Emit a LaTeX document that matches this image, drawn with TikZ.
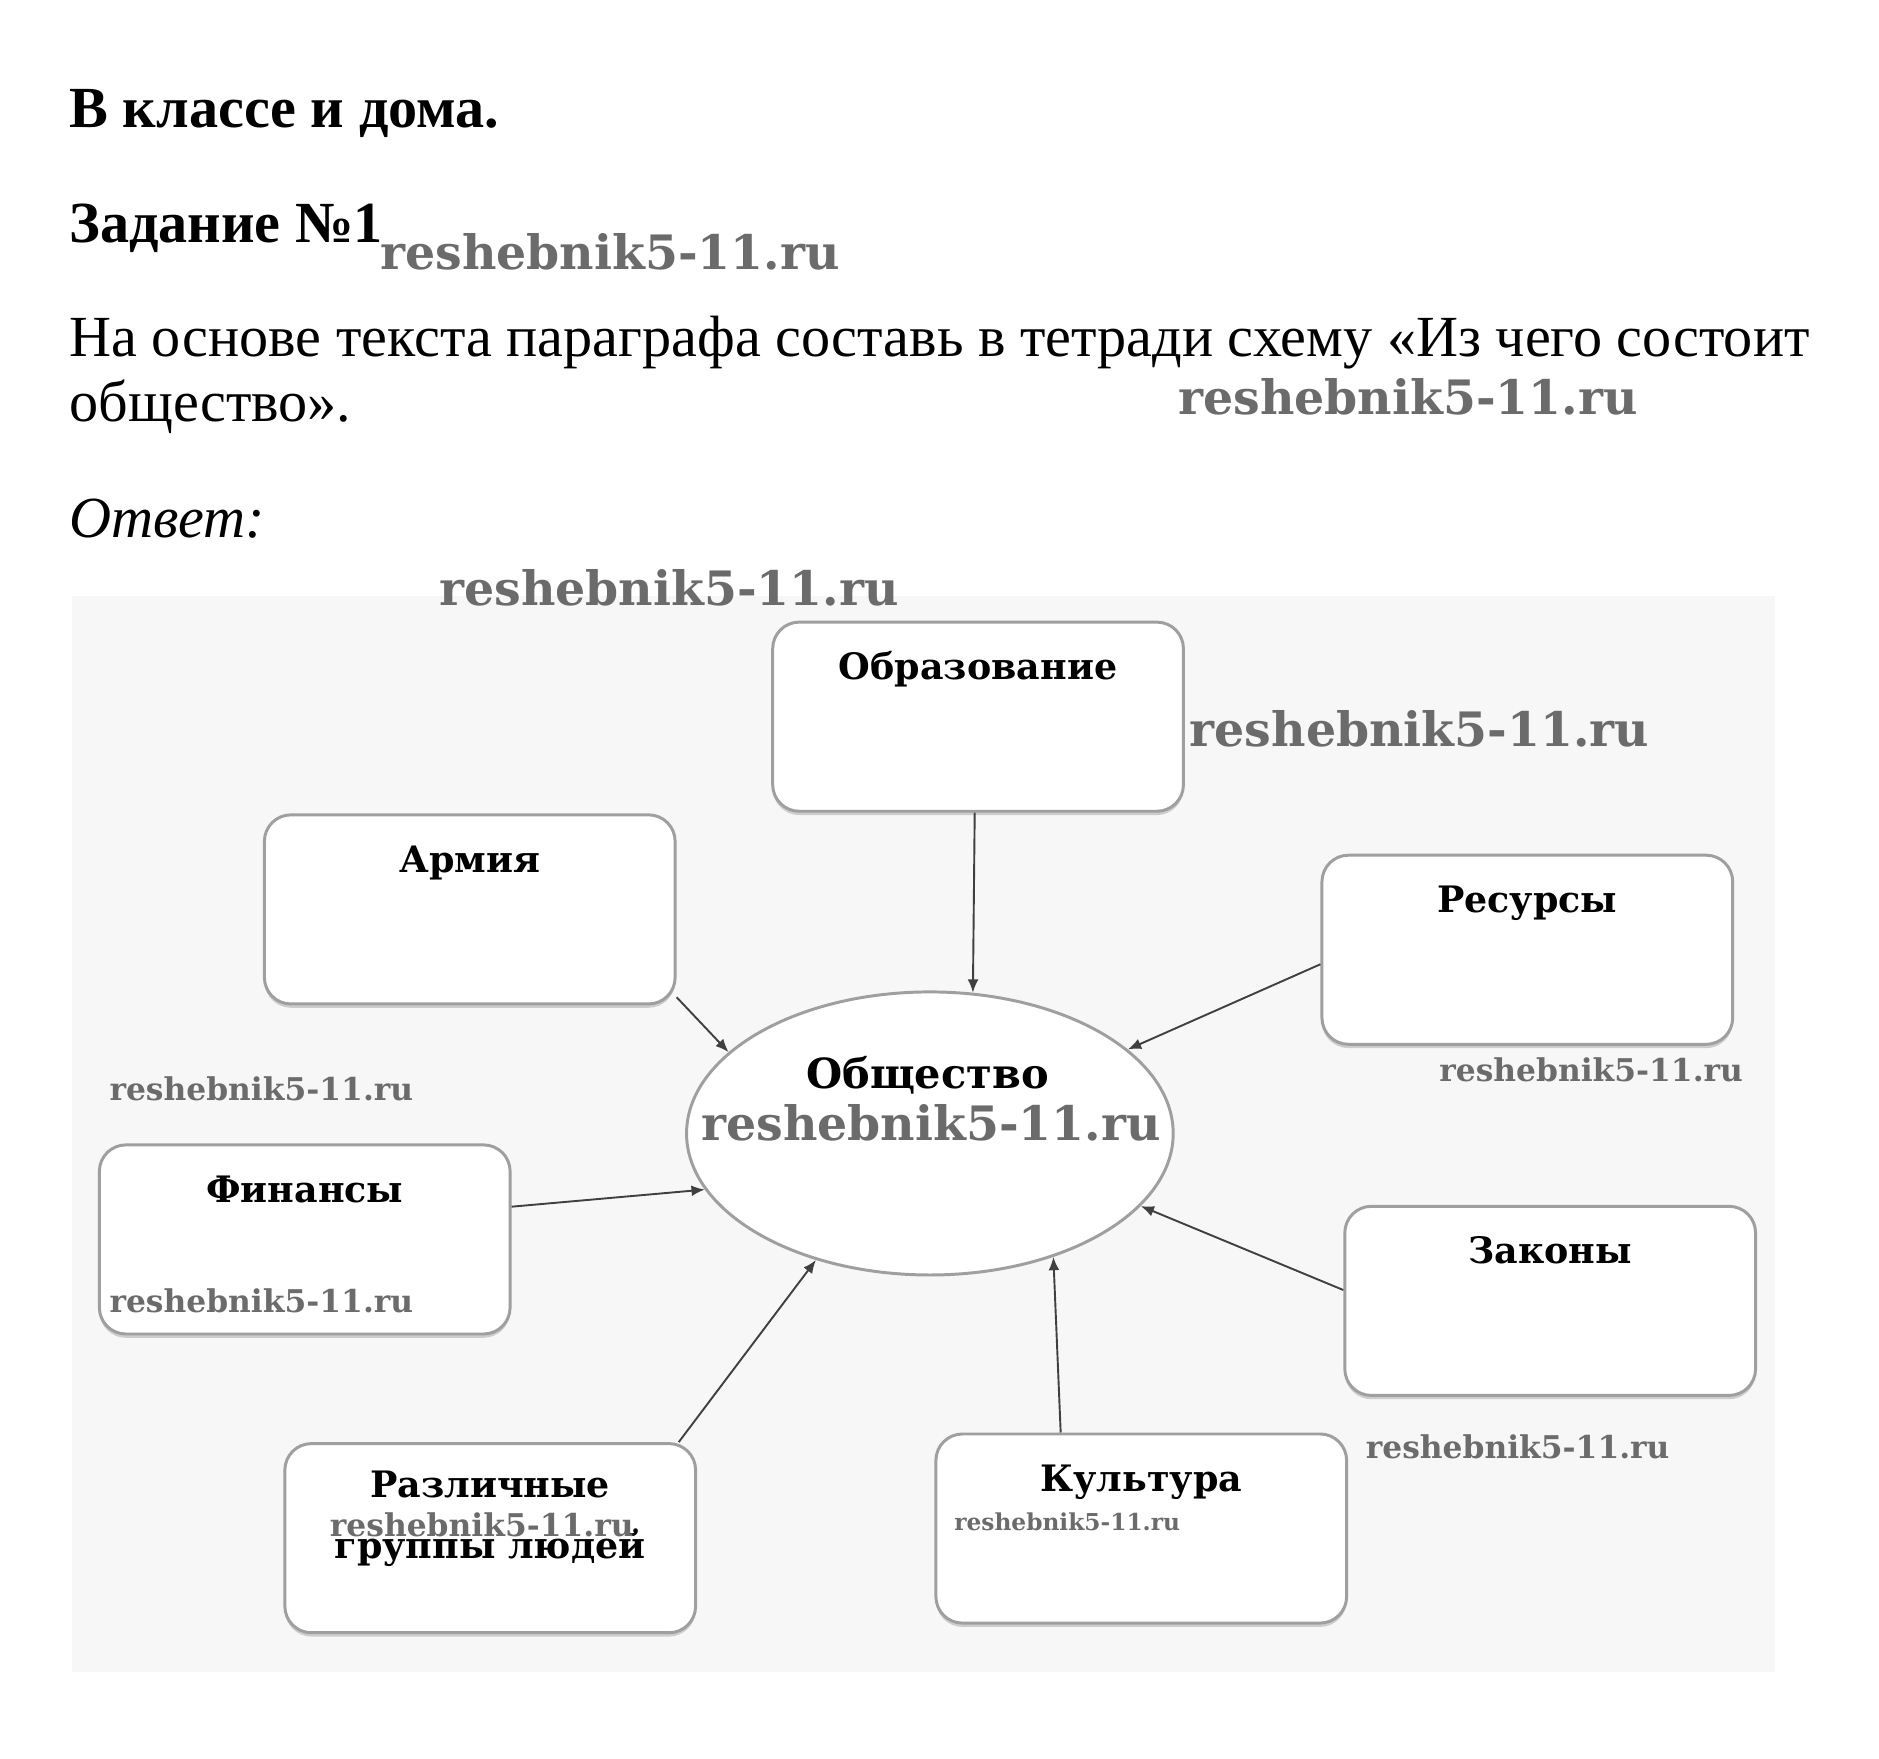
\documentclass[tikz,border=0pt]{standalone}
\usepackage{fontspec}
\setmainfont{Liberation Serif}
\newfontfamily\slabfont{DejaVu Serif}
\usetikzlibrary{arrows.meta,shapes.geometric,shadows}
\begin{document}
\begin{tikzpicture}[
    txt/.style={anchor=base west, inner sep=0pt, font=\fontsize{13.75}{16.5}\selectfont},
    box/.style={draw=gray!75, line width=0.7pt, fill=white, rounded corners=0.22cm,
      minimum width=3.41cm, minimum height=1.57cm, inner sep=0pt,
      drop shadow={shadow xshift=0pt, shadow yshift=-0.9pt, opacity=0.35}},
    lbl/.style={anchor=base, inner sep=0pt, font=\slabfont\bfseries\fontsize{8.6}{10}\selectfont},
    wm/.style={anchor=base, inner sep=0pt, text=black!58, font=\slabfont\bfseries\fontsize{11.2}{13}\selectfont},
    wmsmall/.style={wm, font=\slabfont\bfseries\fontsize{7.4}{9}\selectfont},
    wmtiny/.style={wm, font=\slabfont\bfseries\fontsize{5.5}{7}\selectfont},
    link/.style={draw=black!75, line width=0.45pt, -{Latex[length=1.1mm,width=0.9mm]}}]
  \useasboundingbox[fill=white] (0,0) rectangle (15.6,-14.6);
  \fill[black!3] (0.6,-4.95) rectangle (14.74,-13.88);
  % task text
  \node[txt, font=\bfseries\fontsize{13.75}{16.5}\selectfont] (head) at (0.57,-1.06) {В классе и дома.};
  \node[txt, font=\bfseries\fontsize{13.75}{16.5}\selectfont] (task) at (0.57,-2.01) {Задание №1};
  \node[txt] (par1) at (0.57,-2.96) {На основе текста параграфа составь в тетради схему «Из чего состоит};
  \node[txt] (par2) at (0.57,-3.50) {общество».};
  \node[txt, font=\itshape\fontsize{13.75}{16.5}\selectfont] (answer) at (0.57,-4.46) {Ответ:};
  % scheme
  \node (soc) at (7.72,-9.41) [ellipse, draw=gray!75, line width=0.7pt, fill=white,
    minimum width=4.04cm, minimum height=2.35cm] {};
  \node (socT) at (7.70,-9.04) [lbl, font=\slabfont\bfseries\fontsize{9.8}{12}\selectfont] {Общество};
  \node (obr) at (8.12,-5.95) [box] {};
  \node (armiya) at (3.90,-7.55) [box] {};
  \node (resursy) at (12.68,-7.885) [box] {};
  \node (finansy) at (2.53,-10.29) [box] {};
  \node (zakony) at (12.87,-10.80) [box] {};
  \node (gruppy) at (4.07,-12.77) [box] {};
  \node (kultura) at (9.475,-12.69) [box] {};
  \node (obrT) at ([yshift=-0.49cm]obr.north) [lbl] {Образование};
  \node (armiyaT) at ([yshift=-0.49cm]armiya.north) [lbl] {Армия};
  \node (resursyT) at ([yshift=-0.49cm]resursy.north) [lbl] {Ресурсы};
  \node (finansyT) at ([yshift=-0.49cm]finansy.north) [lbl] {Финансы};
  \node (zakonyT) at ([yshift=-0.49cm]zakony.north) [lbl] {Законы};
  \node (kulturaT) at ([yshift=-0.49cm]kultura.north) [lbl] {Культура};
  \node (gruppyT1) at ([yshift=-0.46cm]gruppy.north) [lbl] {Различные};
  \node (gruppyT2) at ([yshift=-0.97cm]gruppy.north) [lbl] {группы людей};
  \foreach \source/\dest in {obr.268/soc.73, armiya.337/soc.158, resursy.184/soc.23,
      finansy.9/soc.194, zakony.177/soc.341, gruppy.27/soc.228, kultura.130/soc.315}
    \path[link] (\source) -- (\dest);
  % watermarks
  \node (wm1) at (5.065,-2.24) [wm] {reshebnik5-11.ru};
  \node (wm2) at (11.69,-3.44) [wm] {reshebnik5-11.ru};
  \node (wm3) at (5.555,-5.03) [wm] {reshebnik5-11.ru};
  \node (wm4) at (11.785,-6.20) [wm] {reshebnik5-11.ru};
  \node (wm5) at (2.17,-9.14) [wmsmall] {reshebnik5-11.ru};
  \node (wm6) at (13.21,-8.98) [wmsmall] {reshebnik5-11.ru};
  \node (wm7) at (7.73,-9.47) [wm] {reshebnik5-11.ru};
  \node (wm8) at (2.17,-10.90) [wmsmall] {reshebnik5-11.ru};
  \node (wm9) at (12.60,-12.11) [wmsmall] {reshebnik5-11.ru};
  \node (wm10) at (4.00,-12.76) [wmsmall] {reshebnik5-11.ru};
  \node (wm11) at (8.86,-12.71) [wmtiny] {reshebnik5-11.ru};
\end{tikzpicture}
\end{document}
